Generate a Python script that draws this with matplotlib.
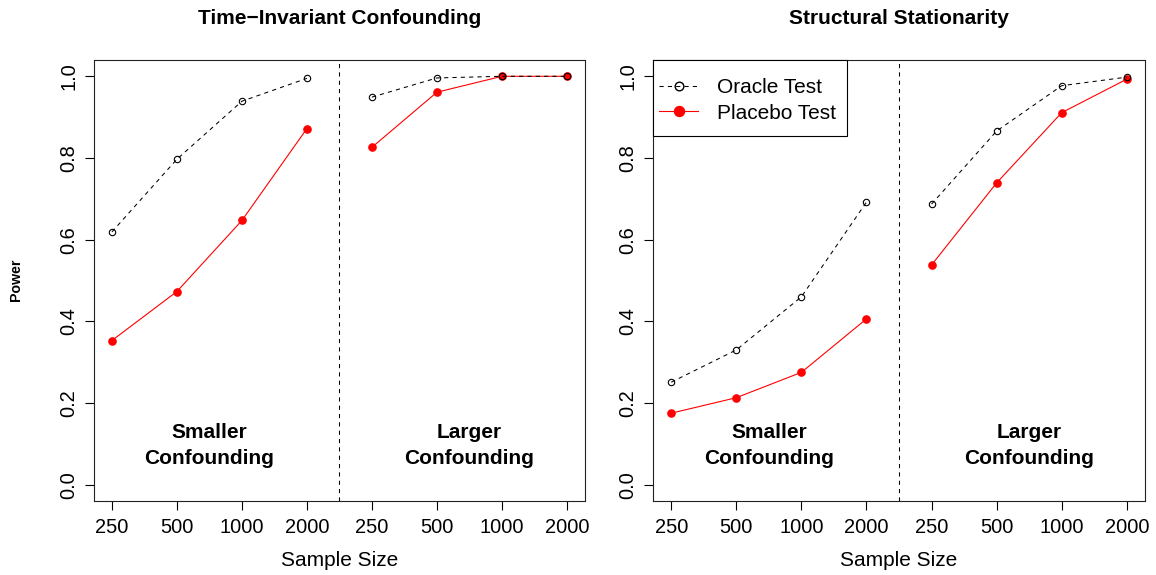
import matplotlib
matplotlib.use("Agg")
import matplotlib.pyplot as plt
from matplotlib.patches import Rectangle

plt.rcParams['font.family'] = ['Liberation Sans', 'DejaVu Sans']

# sample sizes, repeated for the two confounding levels
sizes = ["250", "500", "1000", "2000"]
group_labels = ["Smaller\nConfounding", "Larger\nConfounding"]

# power for the time-invariant confounding setting
tic_oracle_small = [0.619, 0.797, 0.939, 0.995]
tic_oracle_large = [0.949, 0.996, 1.0, 1.0]
tic_placebo_small = [0.353, 0.473, 0.647, 0.872]
tic_placebo_large = [0.826, 0.961, 1.0, 1.0]

# power for the structural stationarity setting
ss_oracle_small = [0.251, 0.330, 0.460, 0.692]
ss_oracle_large = [0.687, 0.866, 0.977, 0.998]
ss_placebo_small = [0.175, 0.213, 0.275, 0.406]
ss_placebo_large = [0.538, 0.739, 0.911, 0.993]

titles = ["Time\u2212Invariant Confounding", "Structural Stationarity"]

x_small = [1, 2, 3, 4]
x_large = [5, 6, 7, 8]

fig = plt.figure(figsize=(11.56, 5.75), dpi=100)
ax1 = fig.add_axes([0.0811, 0.1287, 0.4250, 0.767])
ax2 = fig.add_axes([0.5649, 0.1287, 0.4256, 0.767])

panels = [
    (ax1, tic_oracle_small, tic_oracle_large, tic_placebo_small, tic_placebo_large),
    (ax2, ss_oracle_small, ss_oracle_large, ss_placebo_small, ss_placebo_large),
]

for i, (ax, o_s, o_l, p_s, p_l) in enumerate(panels):
    for xs, o, p in [(x_small, o_s, p_s), (x_large, o_l, p_l)]:
        ax.plot(xs, p, color="red", lw=0.8, marker="o", markersize=5.2,
                markerfacecolor="red", markeredgecolor="red", zorder=3)
        ax.plot(xs, o, color="black", lw=0.75, dashes=(4, 4), marker="o",
                markersize=4.6, markerfacecolor="none", markeredgecolor="black",
                markeredgewidth=0.8, zorder=4)
    ax.axvline(4.5, color="black", lw=0.75, dashes=(4, 4))
    ax.text(2.5, 0.095, group_labels[0], ha="center", va="center",
            fontsize=15, fontweight="bold", linespacing=1.45)
    ax.text(6.5, 0.095, group_labels[1], ha="center", va="center",
            fontsize=15, fontweight="bold", linespacing=1.45)

    ax.set_xlim(0.72, 8.28)
    ax.set_ylim(-0.04, 1.04)
    ax.set_xticks(x_small + x_large)
    ax.set_xticklabels(sizes + sizes)
    ax.set_yticks([0, 0.2, 0.4, 0.6, 0.8, 1.0])
    ax.set_yticklabels(["0.0", "0.2", "0.4", "0.6", "0.8", "1.0"],
                       rotation=90, va="center")
    ax.tick_params(axis="both", direction="out", length=6.3, width=0.8,
                   labelsize=14.4)
    ax.tick_params(axis="x", pad=5.7)
    ax.tick_params(axis="y", pad=5)
    for s in ax.spines.values():
        s.set_linewidth(0.8)
        s.set_color("#222222")
    ax.set_xlabel("Sample Size", fontsize=15, labelpad=10.4)
    ax.set_title(titles[i], fontsize=15, fontweight="bold", pad=26)

fig.text(0.0138, 0.513, "Power", rotation=90, ha="center", va="center",
         fontsize=10.2, fontweight="bold")

# legend in the second panel, with its own box
h_o, = ax2.plot([], [], color="black", lw=0.75, dashes=(4, 4), marker="o",
                markersize=6.2, markerfacecolor="none", markeredgecolor="black")
h_p, = ax2.plot([], [], color="red", lw=0.8, marker="o", markersize=7.2,
                markerfacecolor="red", markeredgecolor="red")
leg = ax2.legend([h_o, h_p], ["Oracle Test", "Placebo Test"], loc="upper left",
                 bbox_to_anchor=(0.0, 0.9725), borderaxespad=0, fontsize=15,
                 frameon=False, handlelength=1.87, handletextpad=0.91,
                 borderpad=0.3, labelspacing=0.3)
ax2.add_patch(Rectangle((0.0, 0.828), 0.394, 0.172, transform=ax2.transAxes,
                        facecolor="white", edgecolor="black", lw=0.8,
                        zorder=5, clip_on=False))
leg.set_zorder(6)

fig.savefig("out.png", dpi=100)
